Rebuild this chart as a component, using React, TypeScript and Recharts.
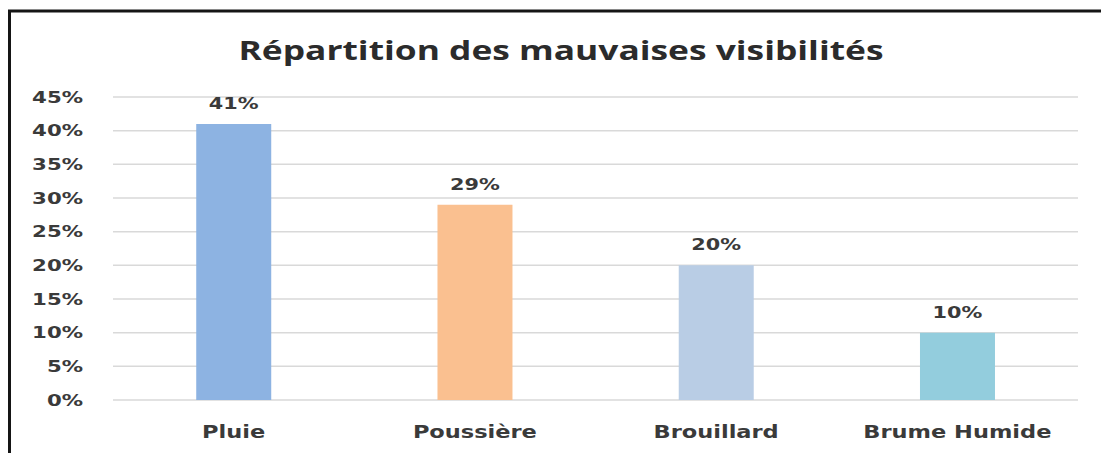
import React from 'react';
import { BarChart, Bar, XAxis, YAxis, CartesianGrid, Cell, LabelList } from 'recharts';

const title = 'Répartition des mauvaises visibilités';
const categories = ['Pluie', 'Poussière', 'Brouillard', 'Brume Humide'];
const values = [41, 29, 20, 10];
const colors = ['#8DB3E2', '#FAC090', '#B9CDE5', '#93CDDD'];
const yTicks = [0, 5, 10, 15, 20, 25, 30, 35, 40, 45];

const data = categories.map((name, i) => ({ name, value: values[i] }));

const TEXT = '#3a3a3a';
const FONT = '"DejaVu Sans", Verdana, sans-serif';

const YTick = (props: any) => {
  const { x, y, payload } = props;
  return (
    <g transform={`translate(${x},${y}) scale(1.33,1)`}>
      <text x={0} y={0} dy="0.36em" textAnchor="end" fontFamily={FONT} fontWeight="bold" fontSize={16} fill={TEXT}>
        {`${payload.value}%`}
      </text>
    </g>
  );
};

const XTick = (props: any) => {
  const { x, y, payload } = props;
  return (
    <g transform={`translate(${x},${y}) scale(1.25,1)`}>
      <text x={0} y={38} textAnchor="middle" fontFamily={FONT} fontWeight="bold" fontSize={18} fill={TEXT}>
        {payload.value}
      </text>
    </g>
  );
};

const BarLabel = (props: any) => {
  const { x, y, width, value } = props;
  return (
    <g transform={`translate(${x + width / 2},${y - 15}) scale(1.3,1)`}>
      <text x={0} y={0} textAnchor="middle" fontFamily={FONT} fontWeight="bold" fontSize={16} fill={TEXT}>
        {`${value}%`}
      </text>
    </g>
  );
};

export default function App() {
  return (
    <div style={{ position: 'absolute', left: 0, top: 0, width: 1101, height: 453, background: '#fff', overflow: 'hidden' }}>
      <BarChart
        width={1101}
        height={453}
        data={data}
        margin={{ top: 97, right: 23, bottom: 0, left: 0 }}
        barCategoryGap="34.5%"
      >
        <rect x={9.5} y={11} width={1200} height={600} fill="none" stroke="#151515" strokeWidth={3} />
        <g transform="translate(561,60) scale(1.36,1)">
          <text
            x={0}
            y={0}
            textAnchor="middle"
            fontFamily='"Open Sans", sans-serif'
            fontWeight="bold"
            fontSize={26}
            fill="#2b2b2b"
          >
            {title}
          </text>
        </g>
        <CartesianGrid horizontal vertical={false} stroke="#d9d9d9" strokeWidth={1.5} />
        <XAxis
          dataKey="name"
          axisLine={false}
          tickLine={false}
          tickSize={0}
          tickMargin={0}
          height={53}
          tick={<XTick />}
          interval={0}
        />
        <YAxis
          domain={[0, 45]}
          ticks={yTicks}
          axisLine={false}
          tickLine={false}
          tickSize={0}
          tickMargin={30}
          width={113}
          tick={<YTick />}
          interval={0}
        />
        <Bar dataKey="value" isAnimationActive={false}>
          {data.map((d, i) => (
            <Cell key={d.name} fill={colors[i]} />
          ))}
          <LabelList dataKey="value" content={<BarLabel />} />
        </Bar>
      </BarChart>
    </div>
  );
}
